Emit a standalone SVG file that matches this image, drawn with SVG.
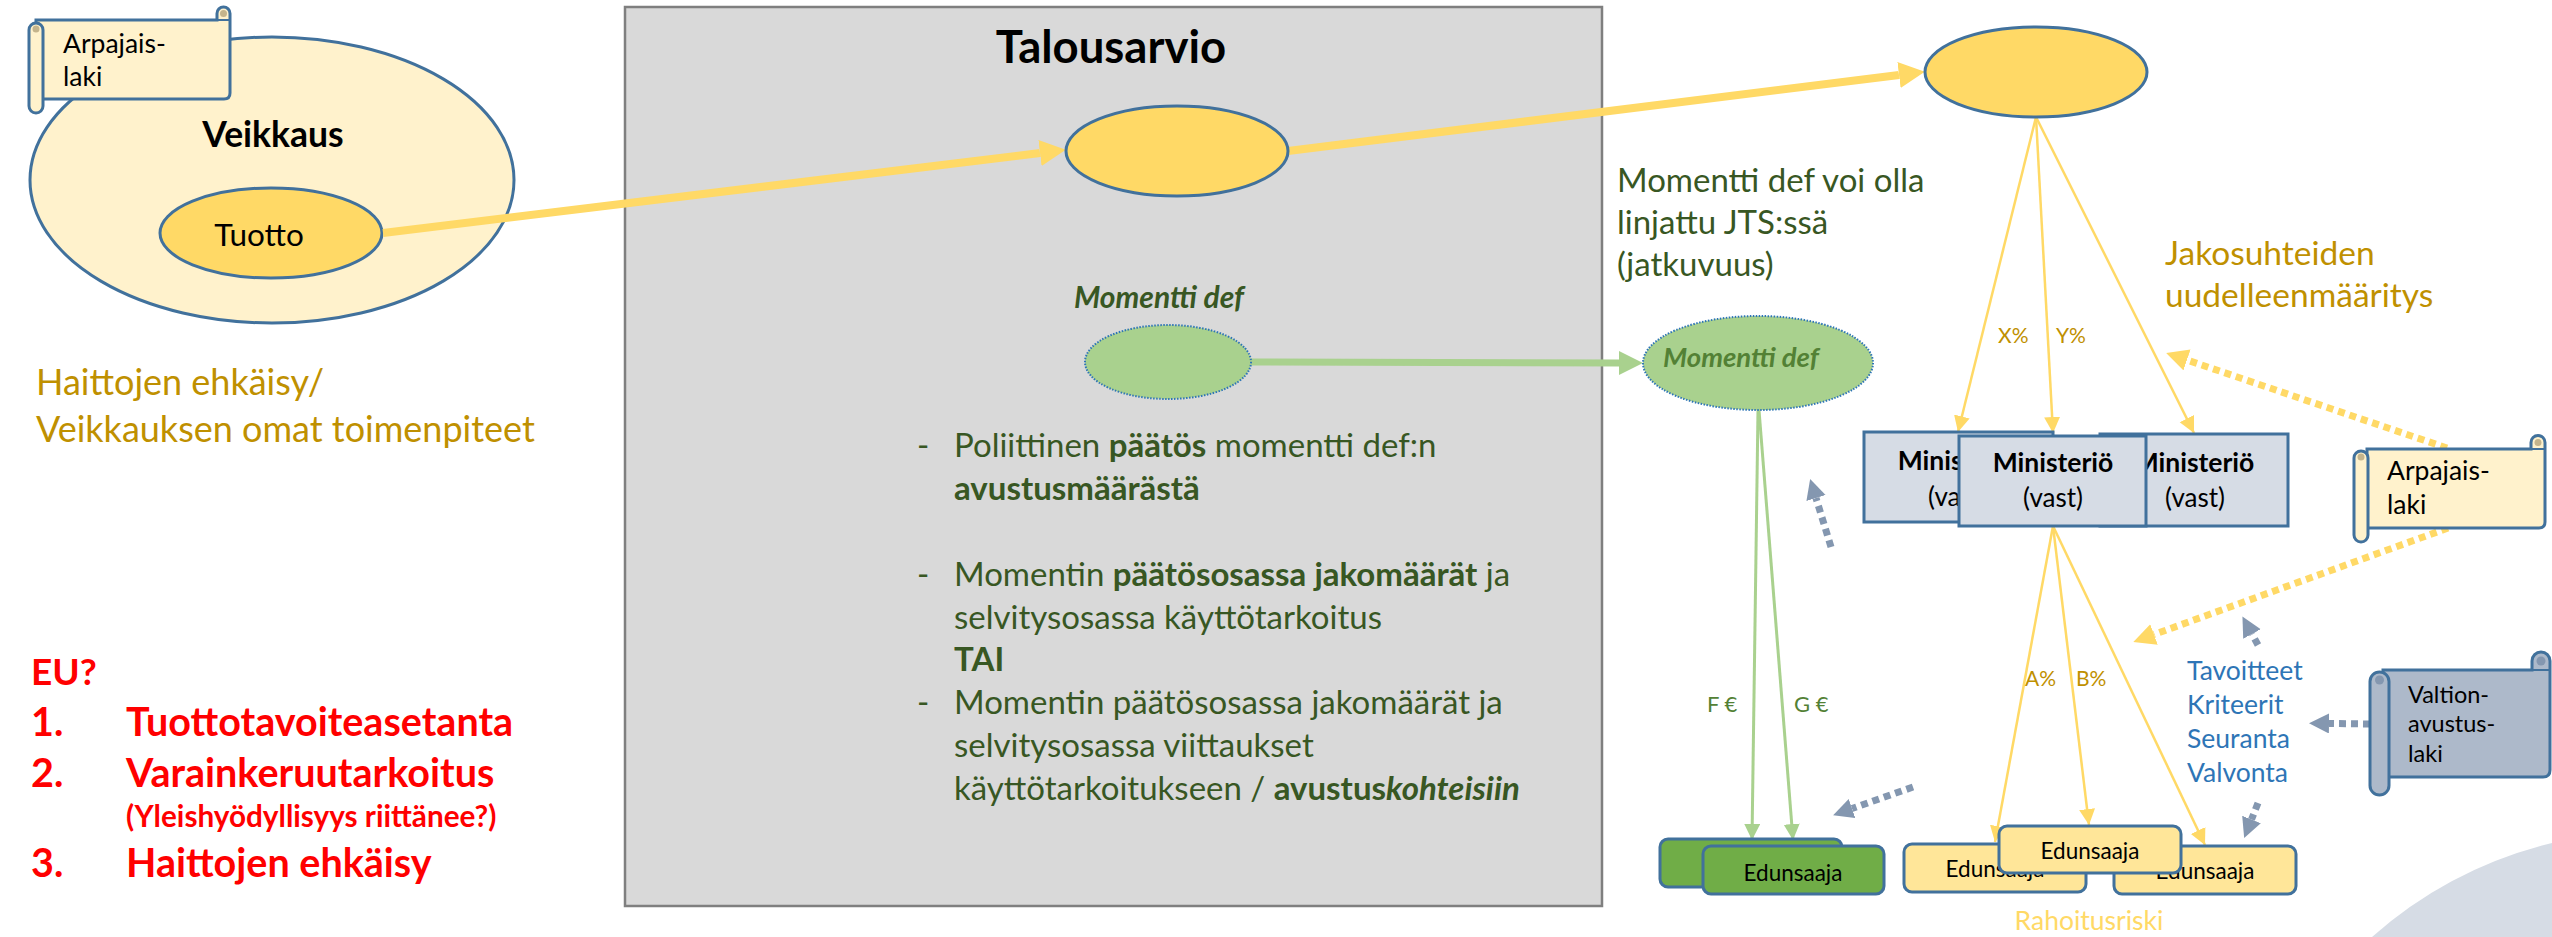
<svg xmlns="http://www.w3.org/2000/svg" width="2552" height="937" viewBox="0 0 2552 937">
<defs>
<style>
text{font-family:Lato,"Liberation Sans",sans-serif;}
.ell{stroke:#41719C;stroke-width:3;}
.ylw{fill:#FFD966;}
.box{stroke:#41719C;stroke-width:3;}
.gtxt{fill:#385723;}
.gold{fill:#BF9000;}
.red{fill:#FF0000;font-weight:bold;}
.blue{fill:#2E75B6;}
.thick{stroke:#FFD966;stroke-width:8;fill:none;}
.thin{stroke:#FFD966;stroke-width:2.5;fill:none;}
.gthin{stroke:#A9D18E;stroke-width:3;fill:none;}
.ydot{stroke:#FFD966;stroke-width:7;stroke-dasharray:7 5;fill:none;}
.gdot{stroke:#8497B0;stroke-width:7;stroke-dasharray:7 5;fill:none;}
.scrollY{fill:#FFF2CC;stroke:#41719C;stroke-width:3;}
.scrollB{fill:#ADB9CA;stroke:#41719C;stroke-width:3;}
</style>
<marker id="hY" markerUnits="userSpaceOnUse" markerWidth="30" markerHeight="30" refX="0" refY="13" orient="auto"><path d="M0,0 L26,13 L0,26 Z" fill="#FFD966"/></marker>
<marker id="hG" markerUnits="userSpaceOnUse" markerWidth="30" markerHeight="30" refX="0" refY="12" orient="auto"><path d="M0,0 L24,12 L0,24 Z" fill="#A9D18E"/></marker>
<marker id="hYs" markerUnits="userSpaceOnUse" markerWidth="20" markerHeight="20" refX="16" refY="8" orient="auto"><path d="M0,0 L16,8 L0,16 Z" fill="#FFD966"/></marker>
<marker id="hGs" markerUnits="userSpaceOnUse" markerWidth="20" markerHeight="20" refX="16" refY="8" orient="auto"><path d="M0,0 L16,8 L0,16 Z" fill="#A9D18E"/></marker>
<marker id="hYd" markerUnits="userSpaceOnUse" markerWidth="26" markerHeight="26" refX="0" refY="11" orient="auto"><path d="M0,0 L22,11 L0,22 Z" fill="#FFD966"/></marker>
<marker id="hBd" markerUnits="userSpaceOnUse" markerWidth="24" markerHeight="24" refX="0" refY="10" orient="auto"><path d="M0,0 L20,10 L0,20 Z" fill="#8497B0"/></marker>
</defs>
<rect width="2552" height="937" fill="#FFFFFF"/>
<path d="M2372,937 Q2450,868 2552,843 L2552,937 Z" fill="#D6DCE5"/>

<g id="talousarvio">
<rect x="625" y="7" width="977" height="899" fill="#D9D9D9" stroke="#7F7F7F" stroke-width="2.5"/>
<text x="1111" y="63" text-anchor="middle" font-size="45.5" font-weight="bold" fill="#000">Talousarvio</text>
</g>

<g id="veikkaus">
<ellipse cx="272" cy="180" rx="242" ry="143" fill="#FFF2CC" class="ell"/>
<text x="273" y="147" text-anchor="middle" font-size="35.5" font-weight="bold" fill="#000">Veikkaus</text>
</g>

<g id="arpajaislaki1">
<path d="M36,20 H217 V13.5 A6.5,6.5 0 0 1 230,13.5 V93 Q230,99 224,99 H36 Z" class="scrollY"/>
<line x1="217" y1="20" x2="230" y2="20" stroke="#41719C" stroke-width="2"/>
<circle cx="223.5" cy="13.5" r="3.5" fill="#C4B48C"/>
<rect x="29" y="23" width="14" height="90" rx="7" class="scrollY"/>
<circle cx="36" cy="29" r="3.5" fill="#C4B48C"/>
<text x="63" y="53" font-size="26.5" fill="#000">Arpajais-</text>
<text x="63" y="86" font-size="26.5" fill="#000">laki</text>
</g>

<g id="tuotto">
<ellipse cx="271" cy="233" rx="111" ry="45" class="ylw ell"/>
<text x="259" y="246" text-anchor="middle" font-size="31.5" fill="#000">Tuotto</text>
</g>

<g id="haittojen">
<text x="36" y="395" font-size="36" class="gold">Haittojen ehkäisy/</text>
<text x="36" y="442" font-size="36" class="gold">Veikkauksen omat toimenpiteet</text>
</g>

<g id="eu">
<text x="31" y="685" font-size="37" class="red">EU?</text>
<text x="31" y="736" font-size="39.5" class="red">1.</text>
<text x="126" y="736" font-size="39.5" class="red">Tuottotavoiteasetanta</text>
<text x="31" y="787" font-size="39.5" class="red">2.</text>
<text x="126" y="787" font-size="39.5" class="red">Varainkeruutarkoitus</text>
<text x="126" y="827" font-size="29.7" class="red">(Yleishyödyllisyys riittänee?)</text>
<text x="31" y="877" font-size="39.5" class="red">3.</text>
<text x="126" y="877" font-size="39.5" class="red">Haittojen ehkäisy</text>
</g>

<g id="connectors">
<line x1="383" y1="233" x2="1040" y2="153" class="thick" marker-end="url(#hY)"/>
<line x1="1288" y1="151" x2="1899" y2="75" class="thick" marker-end="url(#hY)"/>
<line x1="1251" y1="362" x2="1619" y2="363" stroke="#A9D18E" stroke-width="7" marker-end="url(#hG)"/>
<line x1="2036" y1="117" x2="1958" y2="432" class="thin" marker-end="url(#hYs)"/>
<line x1="2036" y1="117" x2="2053" y2="433" class="thin" marker-end="url(#hYs)"/>
<line x1="2036" y1="117" x2="2194" y2="433" class="thin" marker-end="url(#hYs)"/>
<line x1="2053" y1="526" x2="1995" y2="842" class="thin" marker-end="url(#hYs)"/>
<line x1="2053" y1="526" x2="2089" y2="825" class="thin" marker-end="url(#hYs)"/>
<line x1="2053" y1="526" x2="2205" y2="845" class="thin" marker-end="url(#hYs)"/>
<line x1="1758" y1="410" x2="1752" y2="840" class="gthin" marker-end="url(#hGs)"/>
<line x1="1759" y1="410" x2="1793" y2="840" class="gthin" marker-end="url(#hGs)"/>
<line x1="2447" y1="448" x2="2187" y2="360" class="ydot" marker-end="url(#hYd)"/>
<line x1="2448" y1="528" x2="2154" y2="634.5" class="ydot" marker-end="url(#hYd)"/>
<line x1="2370" y1="724" x2="2329" y2="723.5" class="gdot" marker-end="url(#hBd)"/>
<line x1="2258" y1="645" x2="2252" y2="634" class="gdot" marker-end="url(#hBd)"/>
<line x1="2258" y1="803" x2="2251.5" y2="819.5" class="gdot" marker-end="url(#hBd)"/>
<line x1="1831" y1="547" x2="1816" y2="498" class="gdot" marker-end="url(#hBd)"/>
<line x1="1913" y1="787" x2="1852" y2="808.5" class="gdot" marker-end="url(#hBd)"/>
</g>

<g id="budjetti-ellipsi">
<ellipse cx="1177" cy="151" rx="111" ry="45" class="ylw ell"/>
</g>

<g id="momentti-def-1">
<text x="1159" y="308" text-anchor="middle" font-size="30" font-weight="bold" font-style="italic" fill="#385723">Momentti def</text>
<ellipse cx="1168" cy="362" rx="83" ry="37" fill="#A9D18E" stroke="#2E75B6" stroke-width="2" stroke-dasharray="1.5 1.5"/>
</g>

<g id="bullets" font-size="33">
<text x="917" y="457" class="gtxt">-</text>
<text x="954" y="457" class="gtxt">Poliittinen <tspan font-weight="bold">päätös</tspan> momentti def:n</text>
<text x="954" y="500" class="gtxt" font-weight="bold">avustusmäärästä</text>
<text x="917" y="586" class="gtxt">-</text>
<text x="954" y="586" class="gtxt">Momentin <tspan font-weight="bold">päätösosassa jakomäärät</tspan> ja</text>
<text x="954" y="629" class="gtxt">selvitysosassa käyttötarkoitus</text>
<text x="954" y="671" class="gtxt" font-weight="bold">TAI</text>
<text x="917" y="714" class="gtxt">-</text>
<text x="954" y="714" class="gtxt">Momentin päätösosassa jakomäärät ja</text>
<text x="954" y="757" class="gtxt">selvitysosassa viittaukset</text>
<text x="954" y="800" class="gtxt">käyttötarkoitukseen / <tspan font-weight="bold">avustus</tspan><tspan font-weight="bold" font-style="italic">kohteisiin</tspan></text>
</g>

<g id="ylataso-ellipsi">
<ellipse cx="2036" cy="72" rx="111" ry="45" class="ylw ell"/>
</g>

<g id="momentti-jts">
<text x="1617" y="192" font-size="33" class="gtxt">Momentti def voi olla</text>
<text x="1617" y="234" font-size="33" class="gtxt">linjattu JTS:ssä</text>
<text x="1617" y="276" font-size="33" class="gtxt">(jatkuvuus)</text>
</g>

<g id="momentti-def-2">
<ellipse cx="1758" cy="363" rx="115" ry="47" fill="#A9D18E" stroke="#2E75B6" stroke-width="2" stroke-dasharray="1.5 1.5"/>
<text x="1663" y="367" font-size="27.5" font-weight="bold" font-style="italic" fill="#538135">Momentti def</text>
</g>

<g id="jakosuhteet">
<text x="2165" y="265" font-size="33.5" class="gold">Jakosuhteiden</text>
<text x="2165" y="307" font-size="33.5" class="gold">uudelleenmääritys</text>
</g>

<g id="labels">
<text x="1998" y="343" class="gold" font-size="21">X%</text>
<text x="2056" y="343" class="gold" font-size="21">Y%</text>
<text x="2025" y="686" class="gold" font-size="21">A%</text>
<text x="2076" y="686" class="gold" font-size="21">B%</text>
<text x="1707" y="712" fill="#538135" font-size="22">F €</text>
<text x="1794" y="712" fill="#538135" font-size="22">G €</text>
</g>

<g id="ministerio-1">
<rect x="1864" y="432" width="189" height="90" fill="#D6DCE5" class="box"/>
<text x="1958" y="470" text-anchor="middle" font-size="26.5" font-weight="bold" fill="#000">Ministeriö</text>
<text x="1958" y="506" text-anchor="middle" font-size="26" fill="#000">(vast)</text>
</g>
<g id="ministerio-3">
<rect x="2100" y="434" width="188" height="92" fill="#D6DCE5" class="box"/>
<text x="2194" y="472" text-anchor="middle" font-size="26.5" font-weight="bold" fill="#000">Ministeriö</text>
<text x="2195" y="507" text-anchor="middle" font-size="26" fill="#000">(vast)</text>
</g>
<g id="ministerio-2">
<rect x="1959" y="436" width="187" height="90" fill="#D6DCE5" class="box"/>
<text x="2053" y="472" text-anchor="middle" font-size="26.5" font-weight="bold" fill="#000">Ministeriö</text>
<text x="2053" y="507" text-anchor="middle" font-size="26" fill="#000">(vast)</text>
</g>

<g id="arpajaislaki2">
<path d="M2367,449 H2531 V442.5 A7,7 0 0 1 2545,442.5 V522 Q2545,528 2539,528 H2367 Z" class="scrollY"/>
<line x1="2531" y1="449" x2="2545" y2="449" stroke="#41719C" stroke-width="2"/>
<circle cx="2538" cy="442.5" r="3.5" fill="#C4B48C"/>
<rect x="2354" y="451" width="14" height="91" rx="7" class="scrollY"/>
<circle cx="2361" cy="457" r="3.5" fill="#C4B48C"/>
<text x="2387" y="480" font-size="26.5" fill="#000">Arpajais-</text>
<text x="2387" y="514" font-size="26.5" fill="#000">laki</text>
</g>

<g id="valtionavustuslaki">
<path d="M2383,670 H2532 V661 A9,9 0 0 1 2550,661 V770 Q2550,777 2543,777 H2383 Z" class="scrollB"/>
<line x1="2532" y1="670" x2="2550" y2="670" stroke="#41719C" stroke-width="2"/>
<circle cx="2541" cy="661" r="4.5" fill="#8497B0"/>
<rect x="2370" y="672" width="19" height="123" rx="9.5" class="scrollB"/>
<circle cx="2379.5" cy="680" r="4.5" fill="#8497B0"/>
<text x="2408" y="703" font-size="23.5" fill="#000">Valtion-</text>
<text x="2408" y="732" font-size="23.5" fill="#000">avustus-</text>
<text x="2408" y="762" font-size="23.5" fill="#000">laki</text>
</g>

<g id="tavoitteet">
<text x="2187" y="680" font-size="26.5" class="blue">Tavoitteet</text>
<text x="2187" y="714" font-size="26.5" class="blue">Kriteerit</text>
<text x="2187" y="748" font-size="26.5" class="blue">Seuranta</text>
<text x="2187" y="782" font-size="26.5" class="blue">Valvonta</text>
</g>

<g id="edunsaaja-vihrea-1">
<rect x="1660" y="839" width="182" height="48" rx="8" fill="#70AD47" class="box"/>
<text x="1751" y="874" text-anchor="middle" font-size="22.5" fill="#000">Edunsaaja</text>
</g>
<g id="edunsaaja-vihrea-2">
<rect x="1703" y="846" width="181" height="48" rx="8" fill="#70AD47" class="box"/>
<text x="1793" y="881" text-anchor="middle" font-size="22.5" fill="#000">Edunsaaja</text>
</g>

<g id="edunsaaja-1">
<rect x="1904" y="844" width="182" height="48" rx="8" fill="#FFE699" class="box"/>
<text x="1995" y="877" text-anchor="middle" font-size="22.5" fill="#000">Edunsaaja</text>
</g>
<g id="edunsaaja-3">
<rect x="2114" y="846" width="182" height="48" rx="8" fill="#FFE699" class="box"/>
<text x="2205" y="879" text-anchor="middle" font-size="22.5" fill="#000">Edunsaaja</text>
</g>
<g id="edunsaaja-2">
<rect x="1999" y="826" width="182" height="47" rx="8" fill="#FFE699" class="box"/>
<text x="2090" y="859" text-anchor="middle" font-size="22.5" fill="#000">Edunsaaja</text>
</g>

<g id="rahoitusriski">
<text x="2089" y="930" text-anchor="middle" font-size="26.5" fill="#FFD966">Rahoitusriski</text>
</g>
</svg>
